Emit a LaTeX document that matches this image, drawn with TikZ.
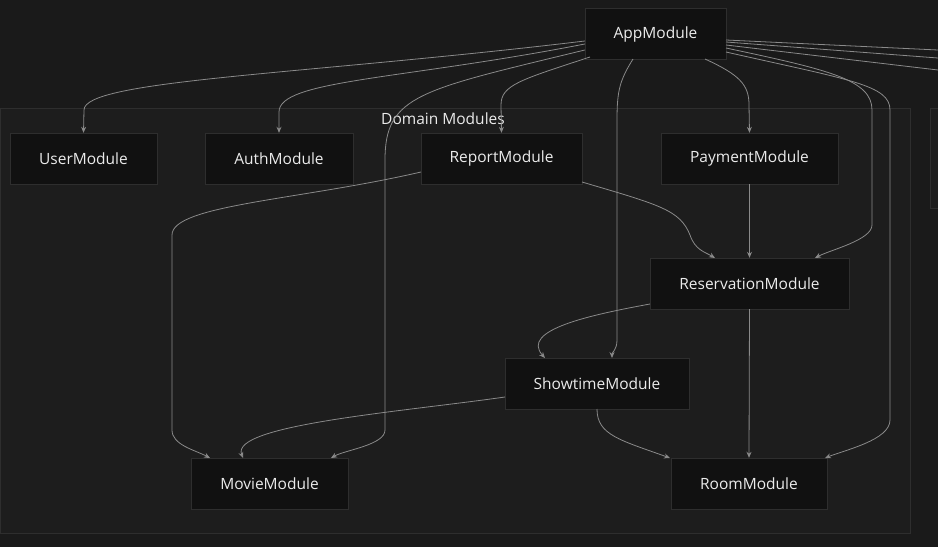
\documentclass[tikz,border=0pt]{standalone}
\usepackage{fontspec}
\setmainfont{Open Sans}
\usetikzlibrary{arrows.meta}
\definecolor{bg}{HTML}{1A1A1A}
\definecolor{cl}{HTML}{1D1D1D}
\definecolor{nd}{HTML}{111111}
\definecolor{bd}{HTML}{2E2E2E}
\definecolor{ln}{HTML}{8A8A8A}
\begin{document}
\begin{tikzpicture}[x=1pt,y=-1pt,
 mod/.style={draw=bd,fill=nd,text=white!92!black,minimum height=51pt,inner sep=0pt,font=\fontsize{15.5}{18}\selectfont},
 e/.style={draw=ln,line width=0.8pt,-{Stealth[length=6pt,width=5pt]}},
 f/.style={draw=ln,line width=0.8pt}]
\fill[bg] (0,0) rectangle (938,547);
\useasboundingbox (0,0) rectangle (938,547);
\draw[bd,fill=cl] (0,108) rectangle (910,533);
\draw[bd,fill=cl] (930,108) rectangle (945,208);
\node[text=white!92!black,font=\fontsize{15.5}{18}\selectfont] (lab) at (443,119) {Domain Modules};
\node[mod,minimum width=141pt] (app) at (655.5,34) {AppModule};
\node[mod,minimum width=147pt] (user) at (83.5,158.5) {UserModule};
\node[mod,minimum width=148pt] (auth) at (279,158.5) {AuthModule};
\node[mod,minimum width=161pt] (rep) at (501.5,158.5) {ReportModule};
\node[mod,minimum width=177pt] (pay) at (749.5,158.5) {PaymentModule};
\node[mod,minimum width=199pt] (res) at (749.5,283.5) {ReservationModule};
\node[mod,minimum width=184pt] (show) at (597,383.5) {ShowtimeModule};
\node[mod,minimum width=157pt] (mov) at (269.5,483.5) {MovieModule};
\node[mod,minimum width=156pt] (room) at (749,483.5) {RoomModule};
\coordinate (o1) at (938,50);
\coordinate (o2) at (938,58);
\coordinate (o3) at (938,70);
% App edges
\draw[e] (app.west|-0,41) .. controls (300,75) and (84,80) .. (84,110) -- (user.north);
\draw[e] (app.west|-0,44) .. controls (400,80) and (279,80) .. (279,112) -- (auth.north);
\draw[e] (app.west|-0,50) .. controls (420,90) and (385,95) .. (385,160) -- (385,430) .. controls (385,445) and (345,450) .. (331,458);
\draw[e] (590,57) .. controls (520,80) and (501,85) .. (501,105) -- (rep.north);
\draw[e] (633,59) .. controls (620,80) and (617,90) .. (617,120) -- (617,340) .. controls (617,350) and (612,352) .. (612,358);
\draw[e] (705,59) .. controls (740,75) and (749,85) .. (749,105) -- (pay.north);
\draw[e] (726,48) .. controls (830,70) and (872,80) .. (872,110) -- (872,225) .. controls (872,240) and (830,250) .. (815,258);
\draw[e] (726,52) .. controls (850,80) and (890,85) .. (890,110) -- (890,420) .. controls (890,440) and (845,450) .. (825,458);
\draw[f] (726,40) -- (o1);
\draw[f] (726,42) -- (o2);
\draw[f] (726,45) -- (o3);
% others
\draw[e] (421,172) .. controls (300,200) and (172,205) .. (172,235) -- (172,430) .. controls (172,445) and (195,450) .. (210,458);
\draw[e] (582,182) .. controls (660,205) and (680,210) .. (690,235) .. controls (695,250) and (705,252) .. (715,258);
\draw[e] (pay.south) -- (res.north);
\draw[e] (650,304) .. controls (590,315) and (520,330) .. (545,358);
\draw[e] (res.south) -- (room.north);
\draw[e] (505,397) .. controls (400,412) and (230,425) .. (243,458);
\draw[e] (597,409) .. controls (597,435) and (620,440) .. (670,458);
\end{tikzpicture}
\end{document}
